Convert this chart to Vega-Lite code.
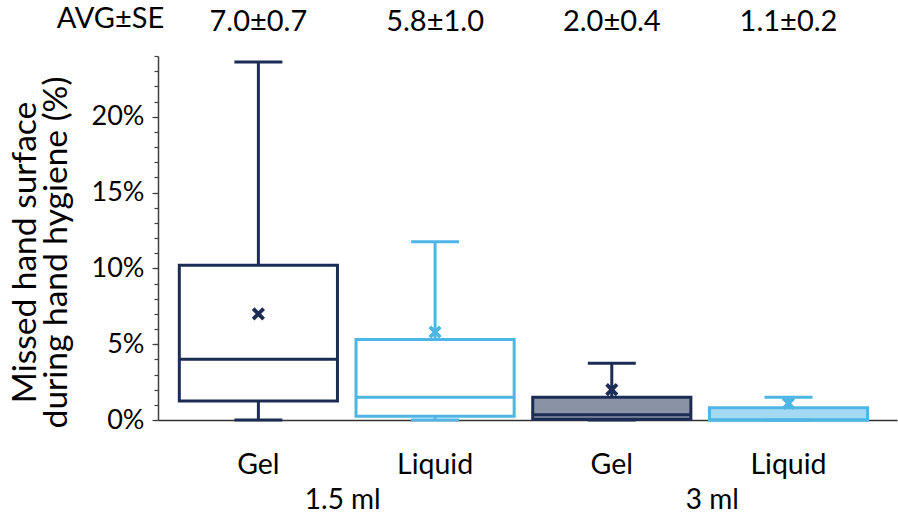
{
  "$schema": "https://vega.github.io/schema/vega-lite/v6.json",
  "autosize": {"type": "none"},
  "padding": {"left": 158, "top": 56, "right": 1, "bottom": 96},
  "width": 739,
  "height": 364,
  "config": {"font": "Lato", "view": {"stroke": null}},
  "data": {
    "values": [
      {"grp": "1.5 ml Gel", "type": "Gel", "vol": "1.5 ml", "avg": "7.0±0.7", "min": 0, "q1": 1.25, "median": 4.0, "q3": 10.2, "max": 23.6, "mean": 7.0},
      {"grp": "1.5 ml Liquid", "type": "Liquid", "vol": "1.5 ml", "avg": "5.8±1.0", "min": 0, "q1": 0.25, "median": 1.5, "q3": 5.3, "max": 11.75, "mean": 5.8},
      {"grp": "3 ml Gel", "type": "Gel", "vol": "3 ml", "avg": "2.0±0.4", "min": 0, "q1": 0.05, "median": 0.35, "q3": 1.5, "max": 3.75, "mean": 2.0},
      {"grp": "3 ml Liquid", "type": "Liquid", "vol": "3 ml", "avg": "1.1±0.2", "min": 0, "q1": 0, "median": 0, "q3": 0.8, "max": 1.5, "mean": 1.1}
    ]
  },
  "resolve": {"scale": {"x": "independent", "y": "independent"}, "axis": {"x": "independent", "y": "independent"}},
  "layer": [
    {
      "mark": {"type": "point", "opacity": 0},
      "encoding": {
        "y": {
          "field": "mean", "type": "quantitative",
          "scale": {"domain": [0, 24], "nice": false},
          "axis": {
            "orient": "left", "title": null, "labels": false, "domain": false, "grid": false,
            "values": [0,1,2,3,4,5,6,7,8,9,10,11,12,13,14,15,16,17,18,19,20,21,22,23,24],
            "tickSize": 4, "tickColor": "#404040", "tickWidth": 1.2
          }
        }
      }
    },
    {
      "encoding": {
        "x": {
          "field": "grp", "type": "nominal", "sort": null,
          "scale": {"paddingInner": 0.105, "paddingOuter": 0.1436, "align": 0.42},
          "axis": {
            "orient": "bottom", "title": null, "ticks": false, "tickSize": 0,
            "labelExpr": "split(datum.label, ' ')[2]", "labelAngle": 0,
            "labelFontSize": 28.5, "labelColor": "#000", "labelPadding": 30,
            "domainColor": "#333", "domainWidth": 1.5
          }
        }
      },
      "layer": [
        {
          "mark": {"type": "rule", "strokeWidth": 3, "opacity": 1},
          "encoding": {
            "y": {
              "field": "q3", "type": "quantitative",
              "scale": {"domain": [0, 24], "nice": false},
              "axis": {
                "orient": "left",
                "title": ["Missed hand surface", "during hand hygiene (%)"],
                "values": [0, 5, 10, 15, 20],
                "labelExpr": "datum.value + '%'",
                "labelFontSize": 27, "labelColor": "#000", "labelPadding": 8,
                "grid": false, "domainColor": "#404040", "domainWidth": 1.5, "tickColor": "#404040", "tickWidth": 1.2,
                "tickSize": 6,
                "titleFontSize": 33.5, "titleFontWeight": "normal", "titleColor": "#000",
                "titleLineHeight": 31, "titleX": -116, "titleY": 196
              }
            },
            "y2": {"field": "max"},
            "color": {"field": "type", "type": "nominal", "scale": {"domain": ["Gel", "Liquid"], "range": ["#1c2d55", "#4db6e5"]}, "legend": null}
          }
        },
        {
          "mark": {"type": "rule", "strokeWidth": 3, "opacity": 1},
          "encoding": {
            "y": {"field": "min", "type": "quantitative"},
            "y2": {"field": "q1"},
            "color": {"field": "type", "type": "nominal", "legend": null}
          }
        },
        {
          "mark": {"type": "bar", "strokeWidth": 3, "opacity": 1},
          "encoding": {
            "y": {"field": "q1", "type": "quantitative"},
            "y2": {"field": "q3"},
            "fill": {"field": "grp", "type": "nominal", "scale": {"domain": ["1.5 ml Gel", "1.5 ml Liquid", "3 ml Gel", "3 ml Liquid"], "range": ["#ffffff", "#ffffff", "#8993a5", "#a5d9f1"]}, "legend": null},
            "stroke": {"field": "type", "type": "nominal", "scale": {"domain": ["Gel", "Liquid"], "range": ["#1c2d55", "#4db6e5"]}, "legend": null}
          }
        },
        {
          "mark": {"type": "tick", "size": 158, "thickness": 3, "orient": "horizontal", "opacity": 1},
          "encoding": {
            "y": {"field": "median", "type": "quantitative"},
            "color": {"field": "type", "type": "nominal", "legend": null}
          }
        },
        {
          "mark": {"type": "tick", "size": 48, "thickness": 3, "orient": "horizontal", "opacity": 1},
          "encoding": {
            "y": {"field": "max", "type": "quantitative"},
            "color": {"field": "type", "type": "nominal", "legend": null}
          }
        },
        {
          "mark": {"type": "tick", "size": 48, "thickness": 3, "orient": "horizontal", "opacity": 1},
          "encoding": {
            "y": {"field": "min", "type": "quantitative"},
            "color": {"field": "type", "type": "nominal", "legend": null}
          }
        },
        {
          "mark": {"type": "point", "shape": "M-1,-1L1,1M1,-1L-1,1", "size": 110, "filled": false, "strokeWidth": 3.8, "opacity": 1},
          "encoding": {
            "y": {"field": "mean", "type": "quantitative"},
            "color": {"field": "type", "type": "nominal", "legend": null}
          }
        }
      ]
    },
    {
      "mark": {"type": "tick", "opacity": 0},
      "encoding": {
        "x": {
          "field": "vol", "type": "nominal", "sort": null,
          "scale": {"paddingInner": 0, "paddingOuter": 0},
          "axis": {
            "orient": "bottom", "title": null, "ticks": false, "tickSize": 0, "domain": false,
            "labelAngle": 0, "labelFontSize": 28, "labelColor": "#000", "labelPadding": 66
          }
        }
      }
    },
    {
      "mark": {"type": "tick", "opacity": 0},
      "encoding": {
        "x": {
          "field": "avg", "type": "nominal", "sort": null,
          "scale": {"paddingInner": 0.105, "paddingOuter": 0.1436, "align": 0.42},
          "axis": {
            "orient": "top", "ticks": false, "tickSize": 0, "domain": false,
            "labelAngle": 0, "labelFontSize": 29, "labelColor": "#000", "labelPadding": 20,
            "title": "AVG±SE", "titleAngle": 0, "titleX": -48, "titleY": -29,
            "titleAlign": "center", "titleBaseline": "alphabetic",
            "titleFontSize": 29, "titleFontWeight": "normal", "titleColor": "#000"
          }
        }
      }
    }
  ]
}
